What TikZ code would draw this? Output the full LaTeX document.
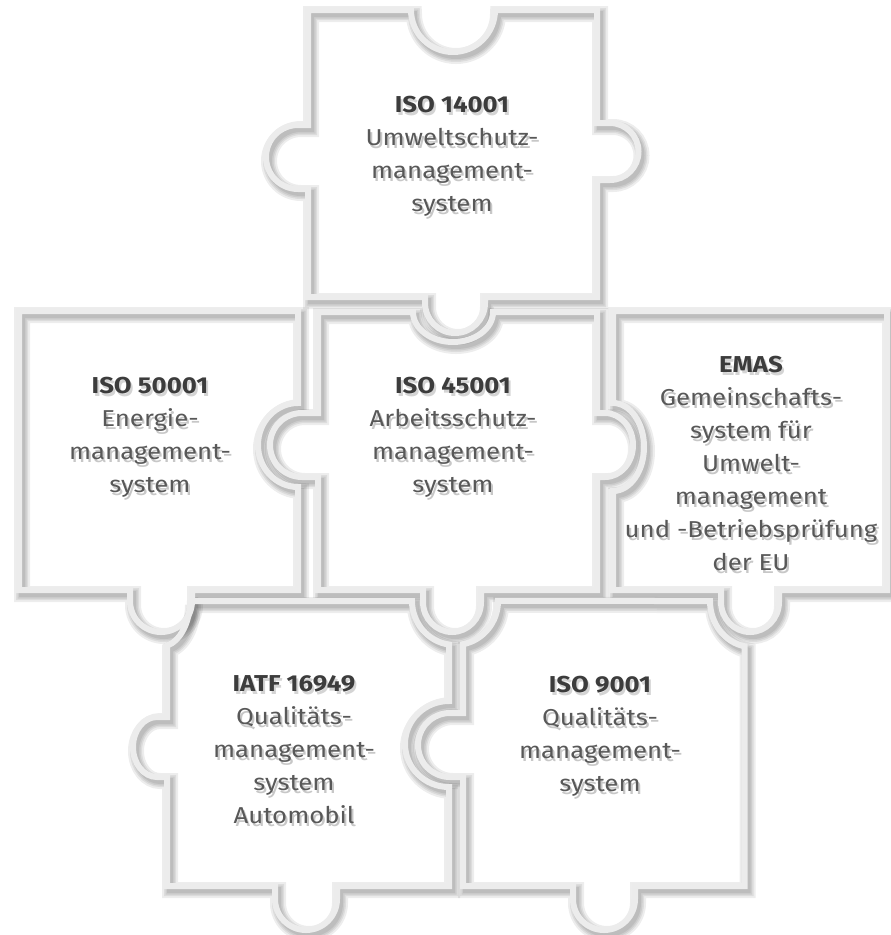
\documentclass[tikz,border=0pt]{standalone}
\usepackage{fontspec}
\setmainfont{Fira Sans}[FakeStretch=1.12]
\definecolor{edgec}{RGB}{236,236,236}
\definecolor{txtc}{RGB}{88,88,88}
\definecolor{ttlc}{RGB}{60,60,60}
\tikzset{
  pieceA/.style={insert path={(308,-10) -- (411,-10) arc[start angle=180,end angle=360,radius=42] -- (597,-10) -- (597,-123) -- (610,-123) arc[start angle=90,end angle=-90,radius=28.5] -- (597,-180) -- (597,-297) -- (485,-297) -- (485,-303) arc[start angle=0,end angle=-180,radius=30] -- (425,-297) -- (308,-297) -- (308,-189) -- (298,-189) arc[start angle=-90,end angle=-270,radius=32] -- (308,-125) -- cycle}},
  pieceB/.style={insert path={(19,-311) -- (298,-311) -- (298,-403) arc[start angle=90,end angle=270,x radius=40,y radius=42] -- (298,-590) -- (192,-590) -- (192,-601) arc[start angle=0,end angle=-180,radius=31] -- (130,-590) -- (19,-590) -- cycle}},
  pieceC/.style={insert path={(318,-312) -- (413,-312) arc[start angle=180,end angle=360,x radius=40,y radius=30] -- (597,-312) -- (597,-413) -- (605,-413) arc[start angle=90,end angle=-90,x radius=28,y radius=32] -- (597,-477) -- (597,-590) -- (481,-590) -- (481,-602) arc[start angle=0,end angle=-180,x radius=29,y radius=30] -- (423,-590) -- (318,-590) -- (318,-477) -- (302,-477) arc[start angle=-90,end angle=-270,radius=32] -- (318,-413) -- cycle}},
  pieceD/.style={insert path={(613,-311) -- (887,-311) -- (887,-590) -- (779,-590) -- (779,-602) arc[start angle=0,end angle=-180,x radius=29,y radius=30] -- (721,-590) -- (613,-590) -- (613,-491) arc[start angle=-90,end angle=90,x radius=31,y radius=44] -- cycle}},
  pieceE/.style={insert path={(190,-601) -- (412,-601) arc[start angle=180,end angle=262,x radius=43,y radius=44] -- (449,-701) arc[start angle=90,end angle=270,x radius=44,y radius=43] -- (449,-886) -- (337,-886) -- (337,-899) arc[start angle=0,end angle=-180,radius=31] -- (275,-886) -- (167,-886) -- (167,-777) -- (157,-777) arc[start angle=-90,end angle=-270,x radius=24,y radius=30] -- (167,-717) -- (167,-645.7) arc[start angle=-76.5,end angle=0,x radius=30,y radius=46] -- cycle}},
  pieceF/.style={insert path={(463,-644.2) arc[start angle=-79.3,end angle=0,x radius=43,y radius=44] -- (710,-601) arc[start angle=180,end angle=260,x radius=42,y radius=46] -- (744.7,-886) -- (635,-886) -- (635,-899) arc[start angle=0,end angle=-180,radius=31] -- (573,-886) -- (463,-886) -- (463,-777) -- (450,-777) arc[start angle=-90,end angle=-270,radius=32] -- (463,-713) -- cycle}},
  pshadow/.style={draw=black, line width=#1, opacity=0.07, shift={(3,-4)}},
  pedge/.style={draw=edgec, line width=6},
  txt/.style={align=center, text=txtc, font=\fontsize{23}{33}\selectfont, inner sep=0pt},
  txtsh/.style={txt, text=black, opacity=0.22},
}
\newcommand\shadowed[1]{%
  \draw[pshadow=16,#1];\draw[pshadow=12,#1];\draw[pshadow=9,#1];\draw[pshadow=6,#1];}
\newcommand\ptext[4]{%
  \node[txtsh] (#1s) at (#2+2,#3-3) {#4};
  \node[txt] (#1) at (#2,#3) {#4};}
\newcommand\ttl[1]{\textbf{\color{ttlc}#1}}
\begin{document}
\begin{tikzpicture}[x=1pt,y=1pt]
\fill[white] (0,0) rectangle (891,-935);
\path[use as bounding box] (0,0) rectangle (891,-935);
\shadowed{pieceA}
\shadowed{pieceB}
\shadowed{pieceC}
\shadowed{pieceD}
\shadowed{pieceE}
\shadowed{pieceF}
\draw[pedge,pieceA];
\draw[pedge,pieceB];
\draw[pedge,pieceC];
\draw[pedge,pieceD];
\draw[pedge,pieceE];
\draw[pedge,pieceF];
\ptext{t14001}{452}{-156}{\ttl{ISO 14001}\\Umweltschutz-\\management-\\system}
\ptext{t50001}{150}{-437}{\ttl{ISO 50001}\\Energie-\\management-\\system}
\ptext{t45001}{453}{-437}{\ttl{ISO 45001}\\Arbeitsschutz-\\management-\\system}
\ptext{temas}{751}{-463}{\ttl{EMAS}\\Gemeinschafts-\\system für\\Umwelt-\\management\\und -Betriebsprüfung\\der EU}
\ptext{tiatf}{294}{-750}{\ttl{IATF 16949}\\Qualitäts-\\management-\\system\\Automobil}
\ptext{t9001}{600}{-736}{\ttl{ISO 9001}\\Qualitäts-\\management-\\system}
\end{tikzpicture}
\end{document}
